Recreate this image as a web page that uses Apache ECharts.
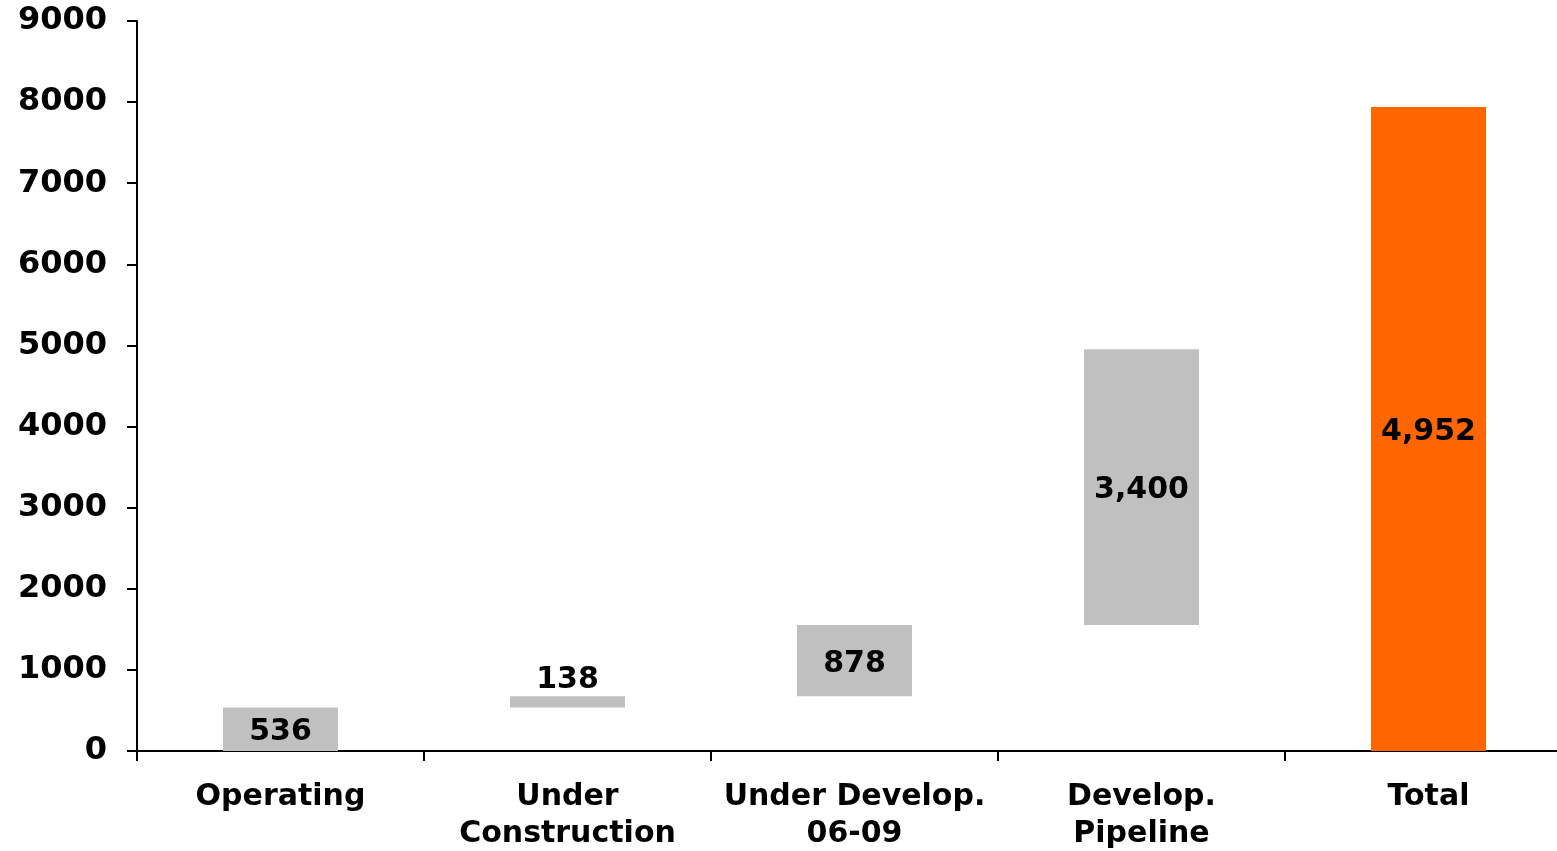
<!DOCTYPE html>
<html>
<head>
<meta charset="utf-8">
<script src="https://cdn.jsdelivr.net/npm/echarts@6/dist/echarts.min.js"></script>
<style>
html,body{margin:0;padding:0;background:#fff;}
#chart{width:1557px;height:851px;}
</style>
</head>
<body>
<div id="chart"></div>
<script>
var categories = ["Operating", "Under\nConstruction", "Under Develop.\n06-09", "Develop.\nPipeline", "Total"];
var baseValues = [0, 536, 674, 1552, 0];
var barValues = [536, 138, 878, 3400, 7940];
var barLabels = ["536", "138", "878", "3,400", "4,952"];
var barColors = ["#C0C0C0", "#C0C0C0", "#C0C0C0", "#C0C0C0", "#FF6600"];
var labelPositions = ["inside", "top", "inside", "inside", "inside"];
var yTicks = [0, 1000, 2000, 3000, 4000, 5000, 6000, 7000, 8000, 9000];

var FONT = "DejaVu Sans";
var chart = echarts.init(document.getElementById('chart'));
chart.setOption({
  animation: false,
  backgroundColor: '#fff',
  grid: { left: 137, top: 21, bottom: 100, width: 1435, containLabel: false, outerBoundsMode: 'none' },
  xAxis: {
    type: 'category',
    data: categories,
    axisLine: { lineStyle: { color: '#000', width: 2 } },
    axisTick: { show: true, length: 10, lineStyle: { color: '#000', width: 2 } },
    axisLabel: {
      color: '#000', fontFamily: FONT, fontWeight: 'bold', fontSize: 30,
      lineHeight: 37, margin: 28, interval: 0
    },
    splitLine: { show: false }
  },
  yAxis: {
    type: 'value',
    min: yTicks[0],
    max: yTicks[yTicks.length - 1],
    interval: 1000,
    axisLine: { show: true, lineStyle: { color: '#000', width: 2 } },
    axisTick: { show: true, length: 10, lineStyle: { color: '#000', width: 2 } },
    axisLabel: {
      color: '#000', fontFamily: FONT, fontWeight: 'bold', fontSize: 32, margin: 30,
      padding: [6, 0, 0, 0],
      formatter: function (v) { return String(v); }
    },
    splitLine: { show: false }
  },
  series: [
    {
      type: 'bar', stack: 'wf', barWidth: 115, silent: true,
      itemStyle: { color: 'transparent' },
      data: baseValues
    },
    {
      type: 'bar', stack: 'wf', barWidth: 115,
      data: barValues.map(function (v, i) {
        var inside = labelPositions[i] === 'inside';
        return {
          value: v,
          itemStyle: { color: barColors[i] },
          label: {
            show: true,
            position: labelPositions[i],
            distance: 1,
            offset: inside ? [0, 3] : [0, 0],
            formatter: barLabels[i],
            color: '#000', fontFamily: FONT, fontWeight: 'bold', fontSize: 30
          }
        };
      })
    }
  ]
});
</script>
</body>
</html>
